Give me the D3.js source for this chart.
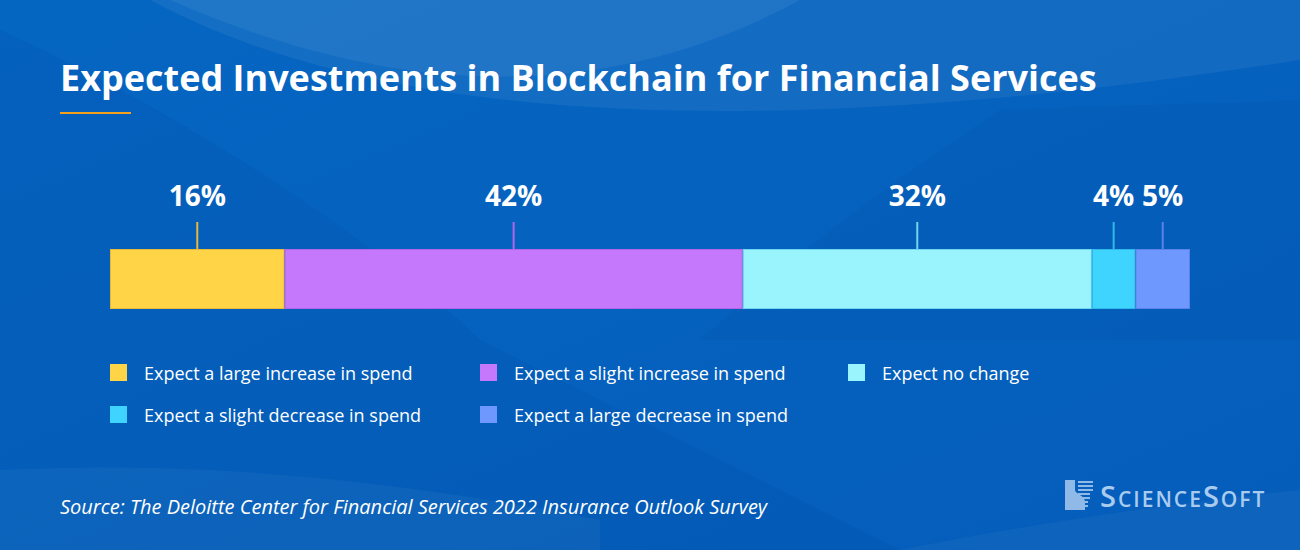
<!DOCTYPE html>
<html><head><meta charset="utf-8">
<script src="https://cdn.jsdelivr.net/npm/d3@7"></script>
<style>html,body{margin:0;padding:0;background:#0564be;}svg{display:block;}</style>
</head><body>
<svg id="chart" width="1300" height="550"></svg>
<script>
const categories = ["Expect a large increase in spend","Expect a slight increase in spend","Expect no change","Expect a slight decrease in spend","Expect a large decrease in spend"];
const values = [16, 42, 32, 4, 5];
const valueLabels = ["16%","42%","32%","4%","5%"];
const colors = ["#ffd447","#c678fc","#9af4fd","#3fd4fe","#6e98fe"];
const strokeColors = ["#e8b83a","#b066e8","#6fd6f0","#2fb8ea","#5a82e8"];
const title = "Expected Investments in Blockchain for Financial Services";
const source = "Source: The Deloitte Center for Financial Services 2022 Insurance Outlook Survey";

const svg = d3.select("#chart");
const W = 1300, H = 550;

// background
const defs = svg.append("defs");
const g1 = defs.append("linearGradient").attr("id","bg").attr("x1","0").attr("y1","0").attr("x2","1").attr("y2","1");
g1.append("stop").attr("offset","0").attr("stop-color","#0566c2");
g1.append("stop").attr("offset","1").attr("stop-color","#055dba");
svg.append("rect").attr("width",W).attr("height",H).attr("fill","url(#bg)");
svg.append("path").attr("d","M150,0 C300,80 600,170 1300,60 L1300,0 Z").attr("fill","#ffffff").attr("opacity",0.06);
svg.append("path").attr("d","M170,0 C330,70 560,130 800,0 Z").attr("fill","#ffffff").attr("opacity",0.06);
svg.append("path").attr("d","M0,30 C200,120 400,260 480,340 L900,550 L0,550 Z").attr("fill","#003a90").attr("opacity",0.10);
svg.append("path").attr("d","M700,340 C800,250 880,190 1000,110 L1300,100 L1300,340 Z").attr("fill","#003a90").attr("opacity",0.06);
svg.append("path").attr("d","M0,470 C200,460 400,480 600,520 L600,550 L0,550 Z").attr("fill","#ffffff").attr("opacity",0.04);
svg.append("path").attr("d","M900,550 C1050,520 1200,500 1300,490 L1300,550 Z").attr("fill","#ffffff").attr("opacity",0.04);

// title
svg.append("text").attr("x",60).attr("y",91).text(title)
  .attr("font-family","'Open Sans'").attr("font-weight",700).attr("font-size",36).attr("fill","#ffffff");
svg.append("rect").attr("x",60).attr("y",112).attr("width",71).attr("height",2).attr("fill","#f5a01a");

// bar
const total = d3.sum(values);
const x = d3.scaleLinear().domain([0,total]).range([110,1190]);
let cum = 0;
const segs = values.map((v,i)=>{const s={v,i,x0:cum,x1:cum+v};cum+=v;return s;});
const barY = 249, barH = 60;
svg.selectAll("rect.seg").data(segs).enter().append("rect").attr("class","seg")
  .attr("x",d=>x(d.x0)+0.5).attr("y",barY+0.5).attr("width",d=>x(d.x1)-x(d.x0)-1).attr("height",barH-1)
  .attr("fill",d=>colors[d.i]).attr("stroke",d=>strokeColors[d.i]).attr("stroke-width",1);
svg.selectAll("line.tick").data(segs).enter().append("line")
  .attr("x1",d=>x((d.x0+d.x1)/2)).attr("x2",d=>x((d.x0+d.x1)/2))
  .attr("y1",222).attr("y2",barY).attr("stroke",d=>strokeColors[d.i]).attr("stroke-width",2);
svg.selectAll("text.lab").data(segs).enter().append("text")
  .attr("x",d=>x((d.x0+d.x1)/2)).attr("y",206).attr("text-anchor","middle")
  .text(d=>valueLabels[d.i]).attr("font-family","'Open Sans'").attr("font-weight",700)
  .attr("font-size",28).attr("fill","#ffffff");

// legend
const legX = [110,480,848], legY = [373,415];
const lg = svg.selectAll("g.leg").data(categories).enter().append("g")
  .attr("transform",(d,i)=>`translate(${legX[i%3]},${legY[Math.floor(i/3)]})`);
lg.append("rect").attr("x",0).attr("y",-9).attr("width",17).attr("height",17)
  .attr("fill",(d,i)=>colors[i]);
lg.append("text").attr("x",34).attr("y",6.5).text(d=>d)
  .attr("font-family","'Open Sans'").attr("font-size",18).attr("fill","#ffffff");

// source
svg.append("text").attr("x",60).attr("y",514).text(source)
  .attr("font-family","'Open Sans'").attr("font-style","italic").attr("font-size",20).attr("fill","#ffffff");

// logo
const logo = svg.append("g").attr("transform","translate(1065,480)");
logo.append("path").attr("d","M0,0 L10,0 L10,10 C10,14 20,15 20,22 L20,30 L0,30 Z").attr("fill","#8fb9e6");
for(let k=0;k<7;k++){
  logo.append("rect").attr("x",13).attr("y",1+k*4).attr("width",k<3?15:(k<5?12:10)).attr("height",2).attr("fill","#8fb9e6");
}
const lt = logo.append("text").attr("x",35).attr("y",27).attr("font-family","'Open Sans'").attr("font-weight",600).attr("fill","#a9cbee").attr("letter-spacing",2);
lt.append("tspan").attr("font-size",29).text("S");
lt.append("tspan").attr("font-size",21).text("CIENCE");
lt.append("tspan").attr("font-size",29).text("S");
lt.append("tspan").attr("font-size",21).text("OFT");
</script>
</body></html>
